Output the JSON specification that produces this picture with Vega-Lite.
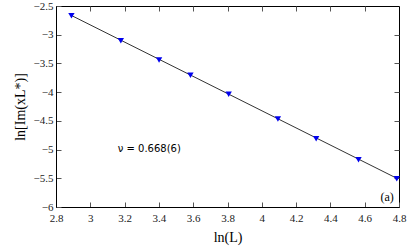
{
  "$schema": "https://vega.github.io/schema/vega-lite/v6.json",
  "width": 343,
  "height": 201,
  "autosize": {"type": "none"},
  "padding": {"left": 56, "top": 6, "right": 12, "bottom": 40},
  "background": "white",
  "config": {
    "view": {"stroke": "black", "strokeWidth": 1},
    "axis": {
      "grid": false,
      "domainColor": "black",
      "tickColor": "#555555",
      "tickSize": -5,
      "labelFont": "Liberation Serif",
      "labelFontSize": 11,
      "labelColor": "#222222",
      "titleFont": "Liberation Serif",
      "titleFontSize": 14,
      "titleFontWeight": "normal",
      "titleColor": "black"
    }
  },
  "datasets": {
    "pts": [
      {"lnL": 2.890, "y": -2.669},
      {"lnL": 3.178, "y": -3.104},
      {"lnL": 3.401, "y": -3.440},
      {"lnL": 3.584, "y": -3.707},
      {"lnL": 3.807, "y": -4.038},
      {"lnL": 4.094, "y": -4.468},
      {"lnL": 4.317, "y": -4.811},
      {"lnL": 4.564, "y": -5.176},
      {"lnL": 4.787, "y": -5.507}
    ],
    "fit": [
      {"lnL": 2.890, "y": -2.665},
      {"lnL": 4.787, "y": -5.500}
    ],
    "notes": [
      {"lnL": 3.16, "y": -4.99, "label": "ν = 0.668(6)", "kind": "nu"},
      {"lnL": 4.77, "y": -5.83, "label": "(a)", "kind": "a"}
    ]
  },
  "layer": [
    {
      "data": {"name": "fit"},
      "mark": {"type": "line", "color": "#333333", "strokeWidth": 1},
      "encoding": {
        "x": {"field": "lnL", "type": "quantitative", "scale": {"domain": [2.8, 4.8], "nice": false, "zero": false},
              "axis": {"orient": "top", "labels": false, "title": null, "domain": false, "values": [3, 3.2, 3.4, 3.6, 3.8, 4, 4.2, 4.4, 4.6]}},
        "y": {"field": "y", "type": "quantitative", "scale": {"domain": [-6, -2.5], "nice": false, "zero": false},
              "axis": {"orient": "right", "labels": false, "title": null, "domain": false, "values": [-5.5, -5, -4.5, -4, -3.5, -3]}}
      }
    },
    {
      "data": {"name": "pts"},
      "mark": {"type": "point", "shape": "triangle-down", "filled": true, "color": "#0000ee", "size": 40, "opacity": 1},
      "encoding": {
        "x": {"field": "lnL", "type": "quantitative", "scale": {"domain": [2.8, 4.8], "nice": false, "zero": false},
              "axis": {"orient": "bottom", "title": "ln(L)", "format": "~g", "values": [2.8, 3, 3.2, 3.4, 3.6, 3.8, 4, 4.2, 4.4, 4.6, 4.8], "labelPadding": 10, "titlePadding": 7, "labelFlush": false}},
        "y": {"field": "y", "type": "quantitative", "scale": {"domain": [-6, -2.5], "nice": false, "zero": false},
              "axis": {"orient": "left", "title": "ln[Im(xL*)]", "format": "~g", "values": [-6, -5.5, -5, -4.5, -4, -3.5, -3, -2.5], "labelPadding": 8, "titlePadding": 6, "labelFlush": false}}
      }
    },
    {
      "data": {"name": "notes"},
      "transform": [{"filter": "datum.kind == 'nu'"}],
      "mark": {"type": "text", "align": "left", "baseline": "middle", "font": "DejaVu Sans", "fontSize": 10, "color": "black"},
      "encoding": {
        "x": {"field": "lnL", "type": "quantitative", "axis": null},
        "y": {"field": "y", "type": "quantitative", "axis": null},
        "text": {"field": "label"}
      }
    },
    {
      "data": {"name": "notes"},
      "transform": [{"filter": "datum.kind == 'a'"}],
      "mark": {"type": "text", "align": "right", "baseline": "middle", "font": "Liberation Serif", "fontSize": 12, "color": "black"},
      "encoding": {
        "x": {"field": "lnL", "type": "quantitative", "axis": null},
        "y": {"field": "y", "type": "quantitative", "axis": null},
        "text": {"field": "label"}
      }
    }
  ],
  "resolve": {"axis": {"x": "independent", "y": "independent"}}
}
